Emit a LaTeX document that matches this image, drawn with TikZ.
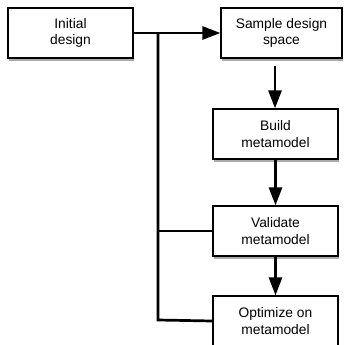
\documentclass[tikz,border=0pt]{standalone}
\usepackage{fontspec}
\setmainfont{Liberation Sans}
\usetikzlibrary{arrows.meta,shadows}
\begin{document}
\begin{tikzpicture}[x=1pt,y=-1pt,
  stepbox/.style={draw=black,line width=1.2pt,fill=white,minimum width=125pt,minimum height=50pt,
    inner sep=0pt,align=center,font=\fontsize{13.8}{16.5}\selectfont,
    drop shadow={shadow xshift=1.2pt,shadow yshift=-2.8pt,opacity=0.55,fill=black!60}},
  conn/.style={line width=2.7pt},
  arr/.style={conn,-{Triangle[length=18pt,width=13pt]}}]
\useasboundingbox (0,0) rectangle (343,345);
\node[stepbox] (init) at (70.5,33) {Initial\\design};
\node[stepbox,minimum width=121pt] (samp) at (281.5,33) {Sample design\\space};
\node[stepbox] (build) at (275.5,134) {Build\\metamodel};
\node[stepbox] (valid) at (275.5,231) {Validate\\metamodel};
\node[stepbox] (opt) at (275.5,321) {Optimize on\\metamodel};
\coordinate (j1) at (158,33);
\coordinate (j2) at (158,231);
\coordinate (j3) at (158,320);
\coordinate (s1) at (275,66);
\draw[arr] (init.east) -- (samp.west);
\draw[conn] (j1) -- (j3) -- (opt.west);
\draw[conn] (j2) -- (valid.west);
\draw[arr] (s1) -- (s1 |- build.north);
\draw[arr] (build.south) -- (valid.north);
\draw[arr] (valid.south) -- (opt.north);
\end{tikzpicture}
\end{document}
